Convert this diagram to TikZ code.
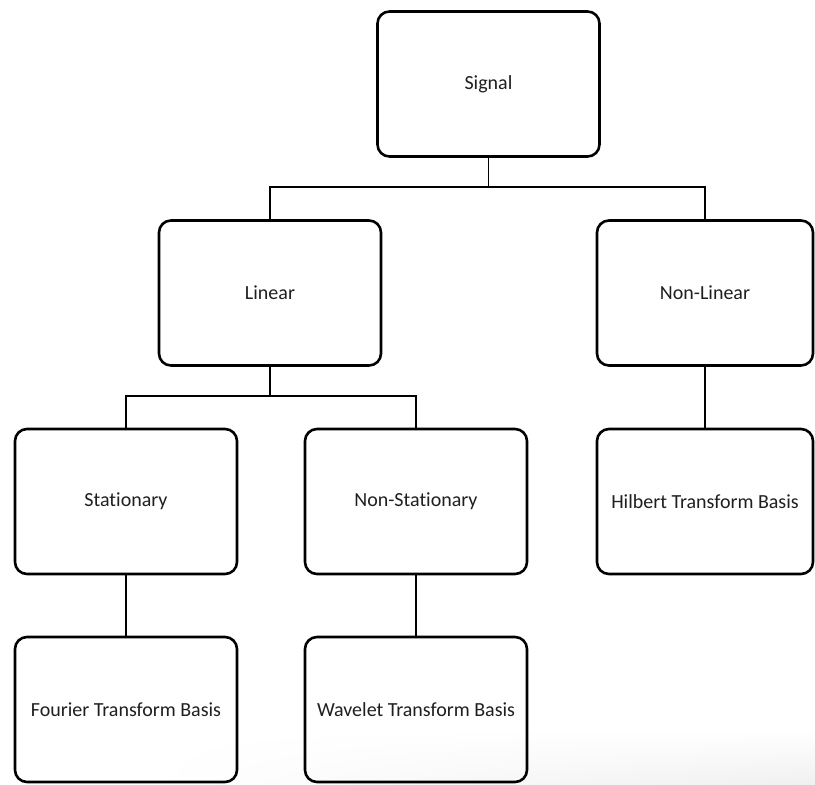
\documentclass[tikz,border=0pt]{standalone}
\usepackage{fontspec}
\setmainfont[Ligatures={NoCommon}]{Carlito}
\usetikzlibrary{shadings}
\begin{document}
\begin{tikzpicture}[x=1pt,y=-1pt,
  box/.style={draw=black, line width=2.6pt, rounded corners=12pt,
    minimum width=222pt, minimum height=145pt, inner sep=0pt,
    text=black!88, font=\fontsize{20}{24}\selectfont},
  narrowbox/.style={box, minimum width=216pt},
  link/.style={draw=black, line width=1.5pt}]
  % canvas
  \useasboundingbox (0,0) rectangle (815,785);
  \fill[white] (0,0) rectangle (815,785);
  % faint shading along the lower edge
  \shade[upper left=white, upper right=white, lower left=white, lower right=black!6]
    (150,730) rectangle (815,785);

  % boxes
  \node[box] (signal) at (488.5,84) {Signal};
  \node[box] (linear) at (270,293) {Linear};
  \node[narrowbox] (nonlinear) at (705,293) {Non-Linear};
  \node[box] (stat) at (126,501.5) {Stationary};
  \node[box] (nonstat) at (416,501.5) {Non-Stationary};
  \node[narrowbox] (hilbert) at (705,501.5) {Hilbert Transform Basis};
  \node[box] (fourier) at (126,709.5) {Fourier Transform Basis};
  \node[box] (wavelet) at (416,709.5) {Wavelet Transform Basis};

  % tree connectors
  \coordinate (busA) at (488.5,187);
  \coordinate (busB) at (270,396);
  \draw[link] (signal.south) -- (busA);
  \draw[link] (linear.north) |- (busA) -| (nonlinear.north);
  \draw[link] (linear.south) -- (busB);
  \draw[link] (stat.north) |- (busB) -| (nonstat.north);
  \draw[link] (nonlinear.south) -- (hilbert.north);
  \draw[link] (stat.south) -- (fourier.north);
  \draw[link] (nonstat.south) -- (wavelet.north);
\end{tikzpicture}
\end{document}
